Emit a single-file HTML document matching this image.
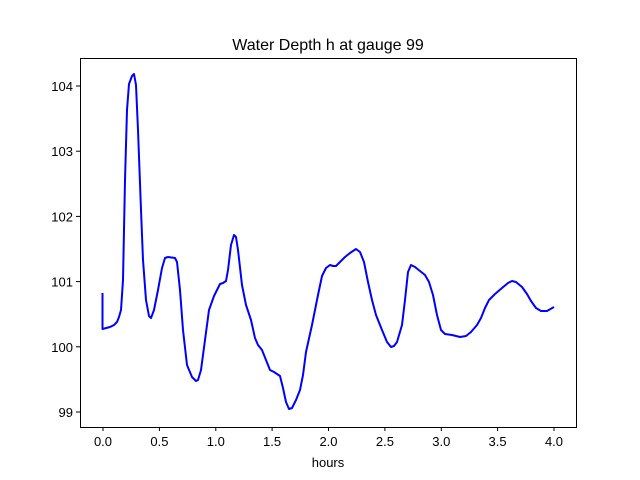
<!DOCTYPE html>
<html><head><style>body{margin:0;background:#fff}svg{display:block}text{font-family:"Liberation Sans",sans-serif;font-size:13px;fill:#000}</style></head><body>
<svg width="640" height="480" viewBox="0 0 640 480">
<rect width="640" height="480" fill="#fff"/>
<polyline fill="none" stroke="#0000ff" stroke-width="2" stroke-linejoin="round" points="102.5,293 102.5,329 110,327 114,325 117,322 119,317 121,310 123,280 125,180 127,110 129,84 132,76 134,74 136,85 138,130 141,210 143,260 146,300 149,316 151,318 154,310 158,290 162,268 165,258 168,257 175,258 177,262 180,290 183,330 187,365 192,377 196,381 198,380 201,370 205,340 209,310 214,296 220,284 223,283 226,281 228,270 231,245 234,235 236,237 238,250 242,285 246,305 251,320 255,338 258,345 262,350 266,360 270,370 274,372 280,376 283,388 286,402 289,409 292,408 296,400 300,390 303,375 306,352 312,325 318,295 322,276 326,268 330,265 333,266 336,266 340,262 345,257 350,253 356,249 360,252 364,262 368,282 372,300 376,315 382,330 387,342 391,347 394,346 397,342 402,325 405,300 408,272 411,265 415,267 420,271 425,275 429,282 433,295 437,315 441,330 445,334 452,335 460,337 466,336 471,332 477,325 481,318 485,308 489,300 495,294 502,288 508,283 512,281 516,282 522,287 527,294 531,301 536,308 541,311 547,311 554,307"/>
<rect x="80.5" y="58.5" width="496" height="369" fill="none" stroke="#000" stroke-width="1"/>
<g stroke="#000" stroke-width="1">
<line x1="103" y1="427" x2="103" y2="431"/><line x1="159.4" y1="427" x2="159.4" y2="431"/><line x1="215.8" y1="427" x2="215.8" y2="431"/><line x1="272.1" y1="427" x2="272.1" y2="431"/><line x1="328.5" y1="427" x2="328.5" y2="431"/><line x1="384.9" y1="427" x2="384.9" y2="431"/><line x1="441.3" y1="427" x2="441.3" y2="431"/><line x1="497.6" y1="427" x2="497.6" y2="431"/><line x1="554" y1="427" x2="554" y2="431"/>
<line x1="76" y1="412" x2="80" y2="412"/><line x1="76" y1="346.8" x2="80" y2="346.8"/><line x1="76" y1="281.6" x2="80" y2="281.6"/><line x1="76" y1="216.4" x2="80" y2="216.4"/><line x1="76" y1="151.2" x2="80" y2="151.2"/><line x1="76" y1="86" x2="80" y2="86"/>
</g>
<g text-anchor="middle">
<text x="103" y="446">0.0</text><text x="159.4" y="446">0.5</text><text x="215.8" y="446">1.0</text><text x="272.1" y="446">1.5</text><text x="328.5" y="446">2.0</text><text x="384.9" y="446">2.5</text><text x="441.3" y="446">3.0</text><text x="497.6" y="446">3.5</text><text x="554" y="446">4.0</text>
<text x="328" y="467">hours</text>
<text x="328" y="50" style="font-size:16px">Water Depth h at gauge 99</text>
</g>
<g text-anchor="end">
<text x="73" y="417">99</text><text x="73" y="351.8">100</text><text x="73" y="286.6">101</text><text x="73" y="221.4">102</text><text x="73" y="156.2">103</text><text x="73" y="91">104</text>
</g>
</svg>
</body></html>
